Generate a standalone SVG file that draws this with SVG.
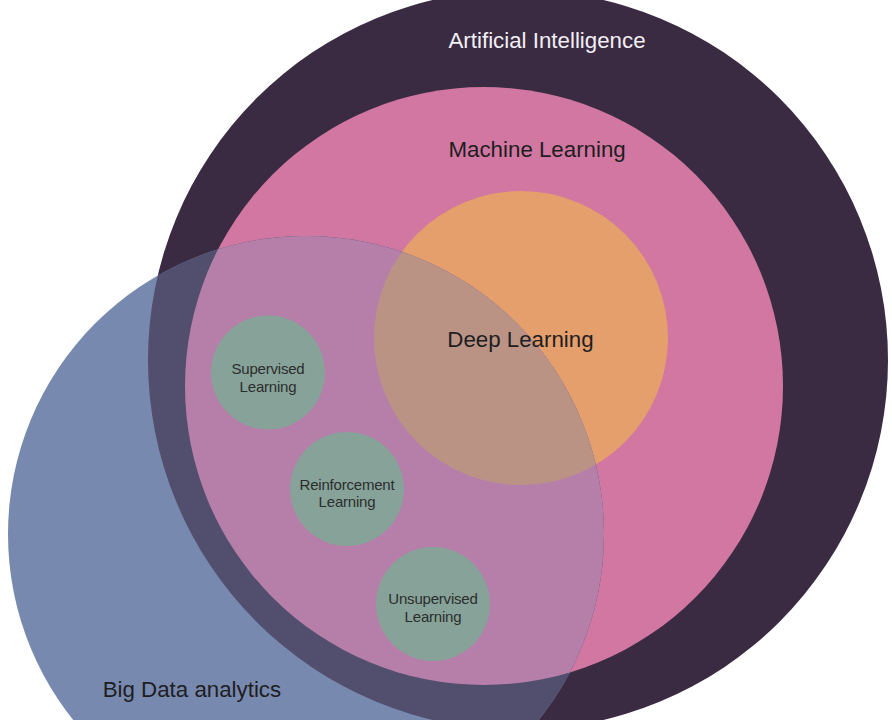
<svg xmlns="http://www.w3.org/2000/svg" width="892" height="720" viewBox="0 0 892 720">
<style>
.lbl{font-family:"Liberation Sans",Arial,Helvetica,sans-serif;font-size:22.3px;fill:#1e1e22}
.sm{font-family:"Liberation Sans",Arial,Helvetica,sans-serif;font-size:15px;fill:#2b2e2d;text-anchor:middle;letter-spacing:-0.2px}
.sub{fill:#87a299}
</style>
<defs>
<clipPath id="clipBlue"><circle cx="306" cy="534" r="298"/></clipPath>
</defs>
<rect width="892" height="720" fill="#ffffff"/>
<g id="ai">
<circle cx="518" cy="360" r="370" fill="#3a2b43"/>
</g>
<g id="ml">
<circle cx="484" cy="386" r="299" fill="#d277a1"/>
</g>
<g id="dl">
<circle cx="521" cy="338" r="147" fill="#e59f6d"/>
</g>
<g id="bigdata">
<circle cx="306" cy="534" r="298" fill="#7889af"/>
<g clip-path="url(#clipBlue)">
<circle cx="518" cy="360" r="370" fill="#524e6d"/>
<circle cx="484" cy="386" r="299" fill="#b57fa9"/>
<circle cx="521" cy="338" r="147" fill="#bb9385"/>
</g>
</g>
<g id="labels">
<text class="lbl" x="448.5" y="48.3" style="fill:#f2f0f4">Artificial Intelligence</text>
<text class="lbl" x="448.5" y="156.7">Machine Learning</text>
<text class="lbl" x="447.3" y="347.3">Deep Learning</text>
<text class="lbl" x="102.7" y="697">Big Data analytics</text>
</g>
<g id="supervised">
<circle class="sub" cx="268" cy="372.5" r="57"/>
<text class="sm" x="268" y="374">Supervised</text>
<text class="sm" x="268" y="391.5">Learning</text>
</g>
<g id="reinforcement">
<circle class="sub" cx="347" cy="489" r="57"/>
<text class="sm" x="347" y="490">Reinforcement</text>
<text class="sm" x="347" y="507">Learning</text>
</g>
<g id="unsupervised">
<circle class="sub" cx="433" cy="604" r="57"/>
<text class="sm" x="433" y="604">Unsupervised</text>
<text class="sm" x="433" y="621.5">Learning</text>
</g>
<g id="connectors"/>
</svg>
